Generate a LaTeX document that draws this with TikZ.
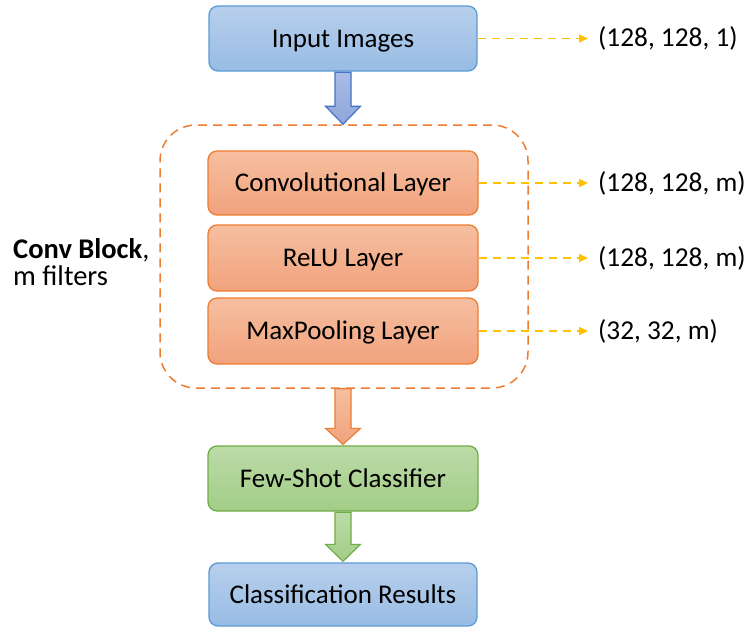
\documentclass[tikz,border=0pt]{standalone}
\usepackage{fontspec}
\setmainfont{Carlito}
\usetikzlibrary{calc,arrows.meta}
\definecolor{blueT}{HTML}{B7CFEC}
\definecolor{blueB}{HTML}{98BCE4}
\definecolor{blueL}{HTML}{5B9BD5}
\definecolor{orangeT}{HTML}{F6BFA0}
\definecolor{orangeB}{HTML}{F1A27D}
\definecolor{orangeL}{HTML}{ED7D31}
\definecolor{greenT}{HTML}{BCDBA8}
\definecolor{greenB}{HTML}{A2CD86}
\definecolor{greenL}{HTML}{70AD47}
\definecolor{yellowL}{HTML}{FFC000}
\definecolor{barrowT}{HTML}{A9BCE6}
\definecolor{barrowB}{HTML}{8EA6DA}
\definecolor{barrowL}{HTML}{4472C4}
\tikzset{
  box/.style={rounded corners=9pt, minimum width=268pt, minimum height=65pt,
    line width=1.3pt, inner sep=0pt, text height=17.3pt, text depth=0pt,
    font=\fontsize{27}{32}\selectfont},
  bluebox/.style={box, draw=blueL, top color=blueT, bottom color=blueB},
  orangebox/.style={box, draw=orangeL, top color=orangeT, bottom color=orangeB},
  greenbox/.style={box, draw=greenL, top color=greenT, bottom color=greenB},
  blockbox/.style={draw=orangeL, dash pattern=on 9pt off 6pt, line width=1.5pt,
    rounded corners=36pt, minimum width=368pt, minimum height=263pt, inner sep=0pt},
  dimlabel/.style={anchor=west, inner sep=0pt, font=\fontsize{27.3}{32}\selectfont},
  dimarrow/.style={draw=yellowL, line width=1.5pt, dash pattern=on 8pt off 6pt,
    -{Triangle[length=9pt,width=8pt]}, shorten >=10pt},
  barrowblue/.style={draw=barrowL, line width=1.2pt, top color=barrowT, bottom color=barrowB},
  barroworange/.style={draw=orangeL, line width=1.2pt, top color=orangeT, bottom color=orangeB},
  barrowgreen/.style={draw=greenL, line width=1.2pt, top color=greenT, bottom color=greenB},
}
\begin{document}
\begin{tikzpicture}[x=1pt,y=-1pt]
\useasboundingbox[fill=white] (0,0) rectangle (747,627);

\node[blockbox] (block) at (344,256.5) {};

\node[bluebox] (in) at (343,38.5) {Input Images};
\node[orangebox, minimum width=270pt, minimum height=64pt] (conv) at (343,183) {Convolutional Layer};
\node[orangebox, minimum width=270pt, minimum height=66pt] (relu) at (343,258) {ReLU Layer};
\node[orangebox, minimum width=270pt, minimum height=66pt] (pool) at (343,331) {MaxPooling Layer};
\node[greenbox, minimum width=270pt] (few) at (343,478.5) {Few-Shot Classifier};
\node[bluebox, minimum height=63pt] (res) at (343,594.5) {Classification Results};

\node[anchor=west, inner sep=0pt, align=left, font=\fontsize{28.5}{27}\selectfont] (lbl) at (13,262)
  {\textbf{Conv Block},\\m filters};

\node[dimlabel] (d1) at (598,38.5) {(128, 128, 1)};
\node[dimlabel] (d2) at (598,183) {(128, 128, m)};
\node[dimlabel] (d3) at (598,258) {(128, 128, m)};
\node[dimlabel] (d4) at (598,331) {(32, 32, m)};

\draw[dimarrow] (in.east) -- (in.east -| d1.west);
\draw[dimarrow] (conv.east) -- (conv.east -| d2.west);
\draw[dimarrow] (relu.east) -- (relu.east -| d3.west);
\draw[dimarrow] (pool.east) -- (pool.east -| d4.west);

\draw[barrowblue] ($(in.south)+(-8,0.6)$) -- ($(block.north -| in.south)+(-8,-18)$)
  -- ($(block.north -| in.south)+(-17.5,-18)$) -- (block.north -| in.south)
  -- ($(block.north -| in.south)+(17.5,-18)$) -- ($(block.north -| in.south)+(8,-18)$)
  -- ($(in.south)+(8,0.6)$) -- cycle;
\draw[barroworange] ($(block.south -| few.north)+(-8,0)$) -- ($(few.north)+(-8,-17)$)
  -- ($(few.north)+(-17.5,-17)$) -- ($(few.north)+(0,-1)$)
  -- ($(few.north)+(17.5,-17)$) -- ($(few.north)+(8,-17)$)
  -- ($(block.south -| few.north)+(8,0)$) -- cycle;
\draw[barrowgreen] ($(few.south)+(-8,0.6)$) -- ($(res.north)+(-8,-18)$)
  -- ($(res.north)+(-17.5,-18)$) -- ($(res.north)+(0,-1)$)
  -- ($(res.north)+(17.5,-18)$) -- ($(res.north)+(8,-18)$)
  -- ($(few.south)+(8,0.6)$) -- cycle;
\end{tikzpicture}
\end{document}
